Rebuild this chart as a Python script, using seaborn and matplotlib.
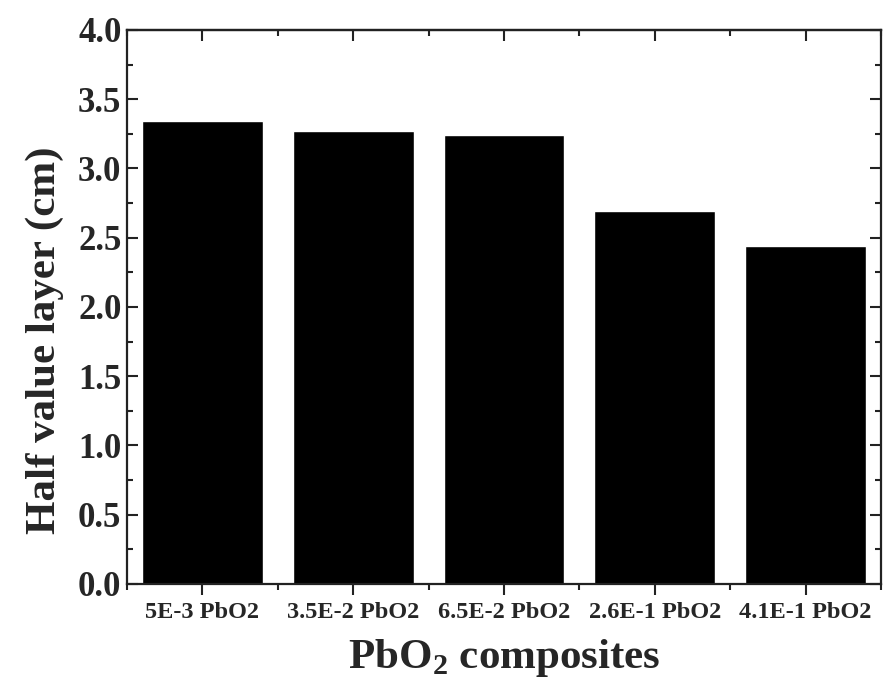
import matplotlib
matplotlib.use('Agg')
import matplotlib.pyplot as plt
import seaborn as sns
import numpy as np
from matplotlib.ticker import MultipleLocator, FormatStrFormatter

composites = ['5E-3 PbO2', '3.5E-2 PbO2', '6.5E-2 PbO2', '2.6E-1 PbO2', '4.1E-1 PbO2']
hvl = [3.34, 3.27, 3.24, 2.69, 2.44]

sns.set_style('ticks')
plt.rcParams['font.family'] = ['Liberation Serif', 'DejaVu Serif']
plt.rcParams['font.weight'] = 'bold'
plt.rcParams['mathtext.fontset'] = 'custom'
plt.rcParams['mathtext.rm'] = 'Liberation Serif:bold'
plt.rcParams['mathtext.bf'] = 'Liberation Serif:bold'

fig = plt.figure(figsize=(8.85, 6.91), dpi=100)
ax = fig.add_axes([0.1435, 0.155, 0.852, 0.8016])

sns.barplot(x=composites, y=hvl, color='black', saturation=1, width=0.8, ax=ax)

ax.set_xlim(-0.5, 4.5)
ax.set_ylim(0, 4.0)
ax.yaxis.set_major_locator(MultipleLocator(0.5))
ax.yaxis.set_minor_locator(MultipleLocator(0.25))
ax.xaxis.set_minor_locator(MultipleLocator(0.5))
ax.yaxis.set_major_formatter(FormatStrFormatter('%.1f'))

for s in ax.spines.values():
    s.set_visible(True)
    s.set_linewidth(1.6)
    s.set_color('#222222')

# y ticks inward on both sides
ax.tick_params(axis='y', which='both', direction='in', left=True, right=True, width=1.5, color='#222222')
ax.tick_params(axis='y', which='major', length=8, labelsize=25, pad=4)
ax.tick_params(axis='y', which='minor', length=4)
# bottom ticks outward
ax.tick_params(axis='x', which='both', direction='out', top=False, bottom=True, width=1.5, color='#222222')
ax.tick_params(axis='x', which='major', length=8, labelsize=17.5, pad=5)
ax.tick_params(axis='x', which='minor', length=4)

# top ticks inward
top = ax.secondary_xaxis('top')
top.set_xticks(range(len(composites)))
top.xaxis.set_minor_locator(MultipleLocator(0.5))
top.tick_params(which='both', direction='in', labeltop=False, width=1.5, color='#222222')
top.tick_params(which='major', length=8)
top.tick_params(which='minor', length=4)
top.spines['top'].set_linewidth(1.6)
top.spines['top'].set_color('#222222')

for lab in ax.get_xticklabels() + ax.get_yticklabels():
    lab.set_fontweight('bold')

ax.set_xlabel('PbO$_2$ composites', fontsize=31, fontweight='bold', labelpad=10)
ax.set_ylabel('Half value layer (cm)', fontsize=31, fontweight='bold')
ax.yaxis.set_label_coords(-0.083, 0.44)

plt.savefig('out.png', dpi=100)
plt.close()
